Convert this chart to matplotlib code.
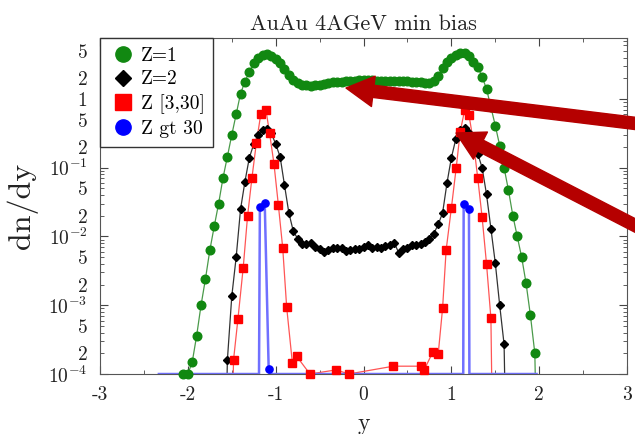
import numpy as np
import matplotlib
matplotlib.use("Agg")
import matplotlib.pyplot as plt
from matplotlib.lines import Line2D
from matplotlib.ticker import FixedLocator, FixedFormatter

plt.rcParams['font.family'] = ['cmr10', 'DejaVu Serif']
plt.rcParams['mathtext.fontset'] = 'cm'
plt.rcParams['axes.unicode_minus'] = False

# Z=1
y_z1 = [-2.05, -2.00, -1.95, -1.90, -1.85, -1.80, -1.75, -1.70, -1.65, -1.60,
        -1.55, -1.50, -1.45, -1.40, -1.35, -1.30, -1.25, -1.20, -1.15, -1.10,
        -1.05, -1.00, -0.95, -0.90, -0.85, -0.80, -0.75, -0.70, -0.65, -0.60,
        -0.55, -0.50, -0.45, -0.40, -0.35, -0.30, -0.25, -0.20, -0.15, -0.10,
        -0.05, 0.00, 0.05, 0.10, 0.15, 0.20, 0.25, 0.30, 0.35, 0.40,
        0.45, 0.50, 0.55, 0.60, 0.65, 0.70, 0.75, 0.80, 0.85, 0.90,
        0.95, 1.00, 1.05, 1.10, 1.15, 1.20, 1.25, 1.30, 1.35, 1.40,
        1.45, 1.50, 1.55, 1.60, 1.65, 1.70, 1.75, 1.80, 1.85, 1.90,
        1.95, 2.00]
dn_z1 = [1.0e-4, 1.0e-4, 1.5e-4, 3.6e-4, 1.0e-3, 2.4e-3, 6.3e-3, 0.014, 0.030, 0.071,
         0.145, 0.30, 0.60, 1.2, 1.78, 2.5, 3.3, 3.9, 4.3, 4.5,
         4.2, 3.8, 3.3, 2.75, 2.25, 1.9, 1.70, 1.62, 1.58, 1.55,
         1.58, 1.62, 1.66, 1.70, 1.74, 1.78, 1.78, 1.82, 1.82, 1.82,
         1.86, 1.86, 1.86, 1.86, 1.82, 1.82, 1.82, 1.82, 1.82, 1.82,
         1.82, 1.82, 1.78, 1.78, 1.74, 1.70, 1.70, 1.82, 2.14, 2.8,
         3.5, 4.0, 4.3, 4.6, 4.7, 4.2, 3.5, 2.95, 2.1, 1.4,
         0.76, 0.41, 0.21, 0.10, 0.047, 0.020, 0.010, 5.0e-3, 2.1e-3, 7.1e-4,
         2.0e-4, 0]

# Z=2
y_z2 = [-1.60, -1.55, -1.50, -1.45, -1.40, -1.35, -1.30, -1.25, -1.20, -1.15,
        -1.10, -1.05, -1.00, -0.95, -0.90, -0.85, -0.80, -0.75, -0.70, -0.65,
        -0.60, -0.55, -0.50, -0.45, -0.40, -0.35, -0.30, -0.25, -0.20, -0.15,
        -0.10, -0.05, 0.00, 0.05, 0.10, 0.15, 0.20, 0.25, 0.30, 0.35,
        0.40, 0.45, 0.50, 0.55, 0.60, 0.65, 0.70, 0.75, 0.80, 0.85,
        0.90, 0.95, 1.00, 1.05, 1.10, 1.15, 1.20, 1.25, 1.30, 1.35,
        1.40, 1.45, 1.50, 1.55, 1.60, 1.65]
dn_z2 = [0, 1.6e-4, 1.35e-3, 5.0e-3, 0.025, 0.063, 0.14, 0.22, 0.30, 0.35,
         0.37, 0.32, 0.22, 0.145, 0.056, 0.022, 0.012, 9.3e-3, 7.9e-3, 7.9e-3,
         8.1e-3, 7.1e-3, 6.5e-3, 5.9e-3, 6.3e-3, 6.9e-3, 6.8e-3, 6.9e-3, 6.2e-3, 6.3e-3,
         6.5e-3, 6.6e-3, 7.1e-3, 7.4e-3, 6.9e-3, 7.1e-3, 6.9e-3, 7.2e-3, 7.4e-3, 8.1e-3,
         5.8e-3, 6.6e-3, 6.9e-3, 7.4e-3, 7.6e-3, 7.9e-3, 8.3e-3, 9.1e-3, 0.011, 0.015,
         0.022, 0.060, 0.14, 0.26, 0.35, 0.38, 0.32, 0.23, 0.16, 0.10,
         0.041, 0.013, 4.1e-3, 1.0e-3, 2.7e-4, 0]

# Z [3,30]
y_z3 = [-1.53, -1.48, -1.43, -1.37, -1.32, -1.27, -1.22, -1.17, -1.11, -1.07,
        -1.02, -0.97, -0.92, -0.875, -0.81, -0.76, -0.61, -0.31, -0.17, 0.34,
        0.65, 0.69, 0.79, 0.85, 0.90, 0.94, 1.00, 1.055, 1.10, 1.15,
        1.20, 1.25, 1.30, 1.35, 1.40, 1.45, 1.49]
dn_z3 = [0, 1.6e-4, 6.3e-4, 3.5e-3, 0.020, 0.072, 0.23, 0.60, 0.68, 0.32,
         0.115, 0.029, 6.8e-3, 9.3e-4, 1.45e-4, 1.8e-4, 1.0e-4, 1.15e-4, 1.0e-4, 1.3e-4,
         1.3e-4, 1.15e-4, 2.1e-4, 1.95e-4, 9.1e-4, 6.3e-3, 0.026, 0.10, 0.33, 0.68,
         0.59, 0.24, 0.071, 0.019, 4.0e-3, 6.5e-4, 0]

# Z gt 30
y_z4 = [-2.33, -1.19, -1.18, -1.125, -1.08, -1.07, 1.135, 1.14, 1.20, 1.205, 1.97]
dn_z4 = [0, 0, 0.027, 0.031, 1.2e-4, 0, 0, 0.030, 0.025, 0, 0]

labels = ['Z=1', 'Z=2', 'Z [3,30]', 'Z gt 30']
YMIN, YMAX = 1e-4, 7.7

fig = plt.figure(figsize=(6.35, 4.34), dpi=100)
ax = fig.add_axes([0.1575, 0.1382, 0.830, 0.7742])
ax.set_yscale('log', nonpositive='clip')


def draw(x, v, color, lcolor, marker, ms, lw, floor=1e-7):
    x = np.array(x)
    v = np.array(v, float)
    ax.plot(x, np.where(v > 0, v, floor), color=lcolor, lw=lw, zorder=2)
    m = v > 0
    ax.plot(x[m], v[m], ls='none', marker=marker, ms=ms, color=color,
            clip_on=False, zorder=3)


draw(y_z1, dn_z1, '#118811', '#4a9a4a', 'o', 6.2, 0.9)
draw(y_z2, dn_z2, 'black', '#333333', 'D', 4.0, 0.9)
draw(y_z3, dn_z3, '#ff0000', '#ff5555', 's', 5.8, 0.9)
draw(y_z4, dn_z4, '#0000ff', '#7070ff', 'o', 5.2, 1.8, floor=YMIN)

ax.set_xlim(-3, 3)
ax.set_ylim(YMIN, YMAX)

# ticks
ax.set_xticks([-3, -2, -1, 0, 1, 2, 3])
ax.set_xticklabels(['-3', '-2', '-1', '0', '1', '2', '3'])
ax.set_xticks(np.arange(-2.5, 3, 1.0), minor=True)
maj = [1e-4, 1e-3, 1e-2, 1e-1, 1]
ax.yaxis.set_major_locator(FixedLocator(maj))
ax.yaxis.set_major_formatter(FixedFormatter(
    [r'$10^{-4}$', r'$10^{-3}$', r'$10^{-2}$', r'$10^{-1}$', '1']))
mins, minlab = [], []
for d in [1e-4, 1e-3, 1e-2, 1e-1, 1]:
    for k in range(2, 10):
        mins.append(k * d)
        minlab.append(str(k) if k in (2, 5) else '')
ax.yaxis.set_minor_locator(FixedLocator(mins))
ax.yaxis.set_minor_formatter(FixedFormatter(minlab))
ax.tick_params(which='both', direction='in', top=True, right=True,
               colors='#444444', labelcolor='#222222', labelsize=14)
ax.tick_params(which='major', length=6)
ax.tick_params(which='minor', length=3)
ax.tick_params(axis='x', which='major', pad=9)
ax.tick_params(axis='y', which='both', pad=9)
for s in ax.spines.values():
    s.set_color('#555555')

ax.set_title('AuAu 4AGeV min bias', fontsize=16, color='#222222', pad=6)
ax.set_xlabel('y', fontsize=17, color='#222222')
ax.xaxis.set_label_coords(0.5, -0.115)
ax.set_ylabel('dn/dy', fontsize=23, color='#222222')
ax.yaxis.set_label_coords(-0.118, 0.5)

handles = [
    Line2D([], [], ls='none', marker='o', ms=11, color='#118811'),
    Line2D([], [], ls='none', marker='D', ms=8, color='black'),
    Line2D([], [], ls='none', marker='s', ms=11, color='#ff0000'),
    Line2D([], [], ls='none', marker='o', ms=11, color='#0000ff'),
]
leg = ax.legend(handles, labels, loc='upper left', fontsize=14, frameon=True,
                fancybox=False, edgecolor='#333333', framealpha=1,
                borderaxespad=0, handletextpad=0.15, labelspacing=0.3,
                borderpad=0.45, handlelength=1.5)
leg.get_frame().set_linewidth(1.0)
leg.set_zorder(5)

# red annotation arrows
for tip, tail in [((346, 346), (640, 310)), ((456, 301), (640, 206))]:
    ax.annotate('', xy=tip, xycoords='figure pixels', xytext=tail,
                textcoords='figure pixels', annotation_clip=False,
                arrowprops=dict(arrowstyle='simple,head_width=2.0,head_length=1.8,tail_width=0.8',
                                color='#b50000', shrinkA=0, shrinkB=0, mutation_scale=11),
                zorder=10)

fig.savefig('out.png', dpi=100)
